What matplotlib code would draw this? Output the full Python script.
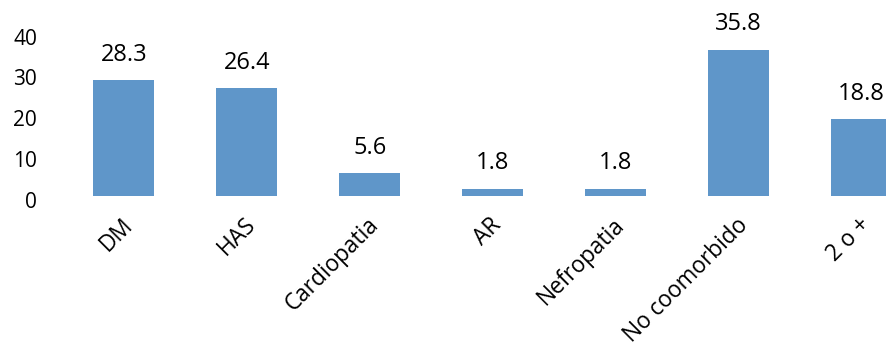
import matplotlib
matplotlib.use("Agg")
import matplotlib.pyplot as plt
from matplotlib.transforms import ScaledTranslation

categories = ["DM", "HAS", "Cardiopatia", "AR", "Nefropatia", "No coomorbido", "2 o +"]
values = [28.3, 26.4, 5.6, 1.8, 1.8, 35.8, 18.8]
yticks = [0, 10, 20, 30, 40]

plt.rcParams['font.family'] = ['Open Sans', 'DejaVu Sans']

W, H = 886, 352
fig = plt.figure(figsize=(W/100, H/100), dpi=100)
left_px, right_px = 62.2, 923.2
bottom_px, top_px = 196, 32.6
ax = fig.add_axes([left_px/W, 1 - bottom_px/H, (right_px-left_px)/W, (bottom_px-top_px)/H])

x = list(range(len(categories)))
ax.bar(x, values, width=0.5, color="#5F96C9")
ax.set_xlim(-0.5, len(categories) - 0.5)
ax.set_ylim(0, 40)
ax.set_yticks(yticks)
ax.set_yticklabels([])
ax.set_xticks(x)
ax.set_xticklabels([])
ax.tick_params(axis='both', length=0)
for s in ax.spines.values():
    s.set_visible(False)

# category labels, rotated 45 degrees
xoff = ScaledTranslation(-3/100, -17/100, fig.dpi_scale_trans)
for xi, cat in zip(x, categories):
    ax.text(xi, 0, cat, transform=ax.get_xaxis_transform() + xoff,
            rotation=45, rotation_mode='anchor', ha='right', va='top', fontsize=16.3)

# y tick labels
yoff = ScaledTranslation(-25/100, -4/100, fig.dpi_scale_trans)
for t in yticks:
    ax.text(0, t, str(t), transform=ax.get_yaxis_transform() + yoff,
            ha='right', va='center_baseline', fontsize=15)

for xi, v in zip(x, values):
    ax.annotate(f"{v:.1f}", (xi, v), xytext=(0, 14), textcoords='offset points',
                ha='center', va='baseline', fontsize=17)

fig.savefig("out.png", dpi=100)
